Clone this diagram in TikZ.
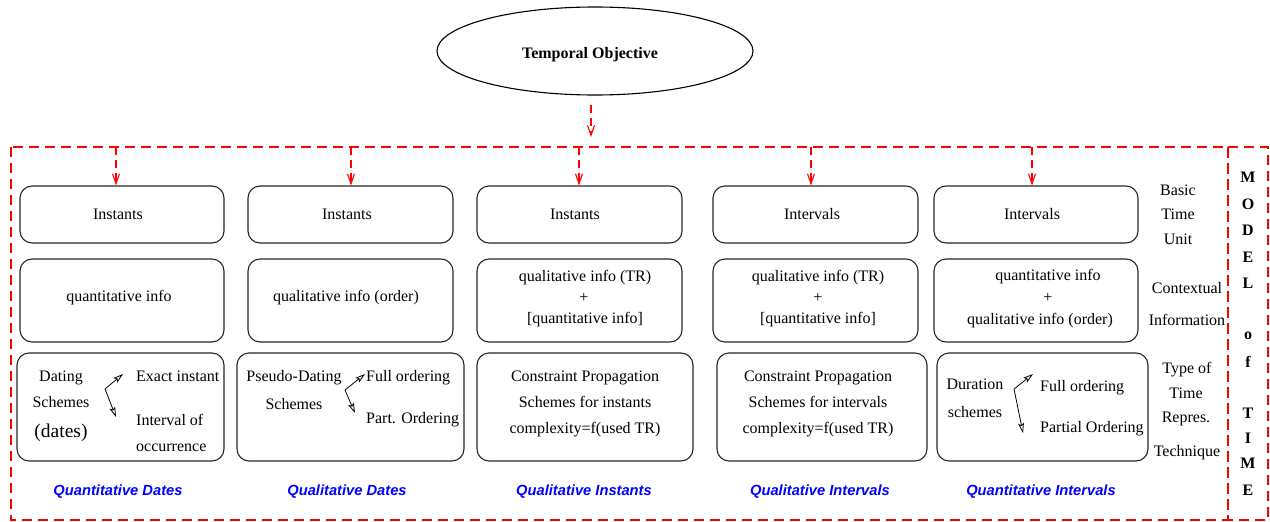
\documentclass[tikz,border=0pt]{standalone}
\usepackage{fontspec}
\setmainfont{Liberation Serif}
\newfontfamily\hvfont{Liberation Sans}
\usetikzlibrary{shapes.geometric,arrows.meta}
\definecolor{pureblue}{RGB}{0,0,255}
\definecolor{purered}{RGB}{255,0,0}
\tikzset{
  box/.style={draw=black!85, line width=1.1pt, rounded corners=12pt, inner sep=0pt},
  txt/.style={inner sep=0pt, text height=11pt, text depth=0pt, font=\fontsize{16}{19}\selectfont},
  ltxt/.style={txt, anchor=west},
  bigtxt/.style={inner sep=0pt, font=\fontsize{19.5}{22}\selectfont},
  model/.style={inner sep=0pt, font=\fontsize{16}{19}\selectfont\bfseries},
  famlab/.style={inner sep=0pt, text=pureblue, font=\fontsize{14.7}{17}\selectfont\hvfont\bfseries\itshape},
  reddash/.style={draw=purered, line width=1.5pt, dash pattern=on 10pt off 6pt},
  redarrow/.style={draw=purered, line width=1.1pt, dash pattern=on 8pt off 5pt, -{Straight Barb[length=10pt,width=7pt]}},
  barrow/.style={draw=black, line width=0.8pt, -{Stealth[open,length=10pt,width=6pt,inset=2pt]}},
}
\begin{document}
\begin{tikzpicture}[x=1pt,y=-1pt]
\useasboundingbox (0,0) rectangle (1270,522);
% ellipse
\node[draw=black, line width=1.1pt, ellipse, minimum width=316, minimum height=88, inner sep=0pt] (obj) at (595,51) {};
\node[txt, font=\fontsize{16}{19}\selectfont\bfseries] (objtxt) at (590,53) {Temporal Objective};
% frames
\draw[reddash] (11,147) rectangle (1228,520);
\draw[reddash] (1228,147) rectangle (1268,520);
% top arrow
\coordinate (oa) at (591,105);
\coordinate (ob) at (591,137);
\draw[redarrow] (oa) -- (ob);
% boxes row 1
\node[box, minimum width=204, minimum height=57] (b11) at (122,214.5) {};
\node[box, minimum width=205, minimum height=57] (b12) at (350.5,214.5) {};
\node[box, minimum width=205, minimum height=57] (b13) at (579.5,214.5) {};
\node[box, minimum width=205, minimum height=57] (b14) at (815.5,214.5) {};
\node[box, minimum width=204, minimum height=57] (b15) at (1036,214.5) {};
% boxes row 2
\node[box, minimum width=204, minimum height=83] (b21) at (122,300.5) {};
\node[box, minimum width=205, minimum height=83] (b22) at (350.5,300.5) {};
\node[box, minimum width=205, minimum height=83] (b23) at (579.5,300.5) {};
\node[box, minimum width=205, minimum height=83] (b24) at (815.5,300.5) {};
\node[box, minimum width=204, minimum height=83] (b25) at (1036,300.5) {};
% boxes row 3
\node[box, minimum width=207, minimum height=108] (b31) at (120.5,407) {};
\node[box, minimum width=227, minimum height=108] (b32) at (350.5,407) {};
\node[box, minimum width=216, minimum height=108] (b33) at (585,407) {};
\node[box, minimum width=210, minimum height=108] (b34) at (822,407) {};
\node[box, minimum width=211, minimum height=108] (b35) at (1042.5,407) {};
% column arrows
\coordinate (t1) at (116,147);
\coordinate (t2) at (351,147);
\coordinate (t3) at (579,147);
\coordinate (t4) at (811,147);
\coordinate (t5) at (1032,147);
\draw[redarrow] (t1) -- (t1 |- b11.north);
\draw[redarrow] (t2) -- (t2 |- b12.north);
\draw[redarrow] (t3) -- (t3 |- b13.north);
\draw[redarrow] (t4) -- (t4 |- b14.north);
\draw[redarrow] (t5) -- (t5 |- b15.north);
% row 1 texts
\node[txt] (i1) at (118,214) {Instants};
\node[txt] (i2) at (347,214) {Instants};
\node[txt] (i3) at (575,214) {Instants};
\node[txt] (i4) at (812,214) {Intervals};
\node[txt] (i5) at (1032,214) {Intervals};
% row 2 texts
\node[txt] (q1) at (119,296) {quantitative info};
\node[txt] (q2) at (346,296) {qualitative info (order)};
\node[txt] (q3a) at (585,276) {qualitative info (TR)};
\node[txt] (q3b) at (584,297) {+};
\node[txt] (q3c) at (585,318) {[quantitative info]};
\node[txt] (q4a) at (818,276) {qualitative info (TR)};
\node[txt] (q4b) at (818,297) {+};
\node[txt] (q4c) at (818,318) {[quantitative info]};
\node[txt] (q5a) at (1048,275) {quantitative info};
\node[txt] (q5b) at (1048,297) {+};
\node[txt] (q5c) at (1040,319) {qualitative info (order)};
% row 3 col 1
\node[txt] (d1) at (61,376) {Dating};
\node[txt] (d2) at (61,402) {Schemes};
\node[bigtxt] (d3) at (61,433) {(dates)};
\node[ltxt] (d4) at (136,376) {Exact instant};
\node[ltxt] (d5) at (136,420) {Interval of};
\node[ltxt] (d6) at (136,446) {occurrence};
\coordinate (s1) at (105,389);
\coordinate (s1u) at (123,374);
\coordinate (s1d) at (116,417);
\draw[barrow] (s1) -- (s1u);
\draw[barrow] (s1) -- (s1d);
% row 3 col 2
\node[txt] (p1) at (294,376) {Pseudo-Dating};
\node[txt] (p2) at (294,404) {Schemes};
\node[ltxt] (p3) at (366,376) {Full ordering};
\node[ltxt] (p4) at (366,418) {Part. Ordering};
\coordinate (s2) at (345,390);
\coordinate (s2u) at (365,374);
\coordinate (s2d) at (355,413);
\draw[barrow] (s2) -- (s2u);
\draw[barrow] (s2) -- (s2d);
% row 3 col 3
\node[txt] (c3a) at (585,376) {Constraint Propagation};
\node[txt] (c3b) at (585,402) {Schemes for instants};
\node[txt] (c3c) at (585,428) {complexity=f(used TR)};
% row 3 col 4
\node[txt] (c4a) at (818,376) {Constraint Propagation};
\node[txt] (c4b) at (818,402) {Schemes for intervals};
\node[txt] (c4c) at (818,428) {complexity=f(used TR)};
% row 3 col 5
\node[txt] (u1) at (975,384) {Duration};
\node[txt] (u2) at (975,412) {schemes};
\node[ltxt] (u3) at (1040,386) {Full ordering};
\node[ltxt] (u4) at (1040,427) {Partial Ordering};
\coordinate (s5) at (1014,389);
\coordinate (s5u) at (1033,374);
\coordinate (s5d) at (1023,433);
\draw[barrow] (s5) -- (s5u);
\draw[barrow] (s5) -- (s5d);
% right labels
\node[txt] (r1) at (1178,190) {Basic};
\node[txt] (r2) at (1178,214) {Time};
\node[txt] (r3) at (1178,239) {Unit};
\node[txt] (r4) at (1187,288) {Contextual};
\node[txt] (r5) at (1187,320) {Information};
\node[txt] (r6) at (1187,368) {Type of};
\node[txt] (r7) at (1186,393) {Time};
\node[txt] (r8) at (1186,417) {Repres.};
\node[txt] (r9) at (1187,451) {Technique};
% MODEL of TIME
\node[model] (m1) at (1248,177) {M};
\node[model] (m2) at (1248,204) {O};
\node[model] (m3) at (1248,230) {D};
\node[model] (m4) at (1248,257) {E};
\node[model] (m5) at (1248,283) {L};
\node[model] (m6) at (1248,336) {o};
\node[model] (m7) at (1248,362) {f};
\node[model] (m8) at (1248,413) {T};
\node[model] (m9) at (1248,438) {I};
\node[model] (m10) at (1248,463) {M};
\node[model] (m11) at (1248,490) {E};
% family labels
\node[famlab] (f1) at (118,492) {Quantitative Dates};
\node[famlab] (f2) at (347,492) {Qualitative Dates};
\node[famlab] (f3) at (584,492) {Qualitative Instants};
\node[famlab] (f4) at (820,492) {Qualitative Intervals};
\node[famlab] (f5) at (1041,492) {Quantitative Intervals};
\end{tikzpicture}
\end{document}
